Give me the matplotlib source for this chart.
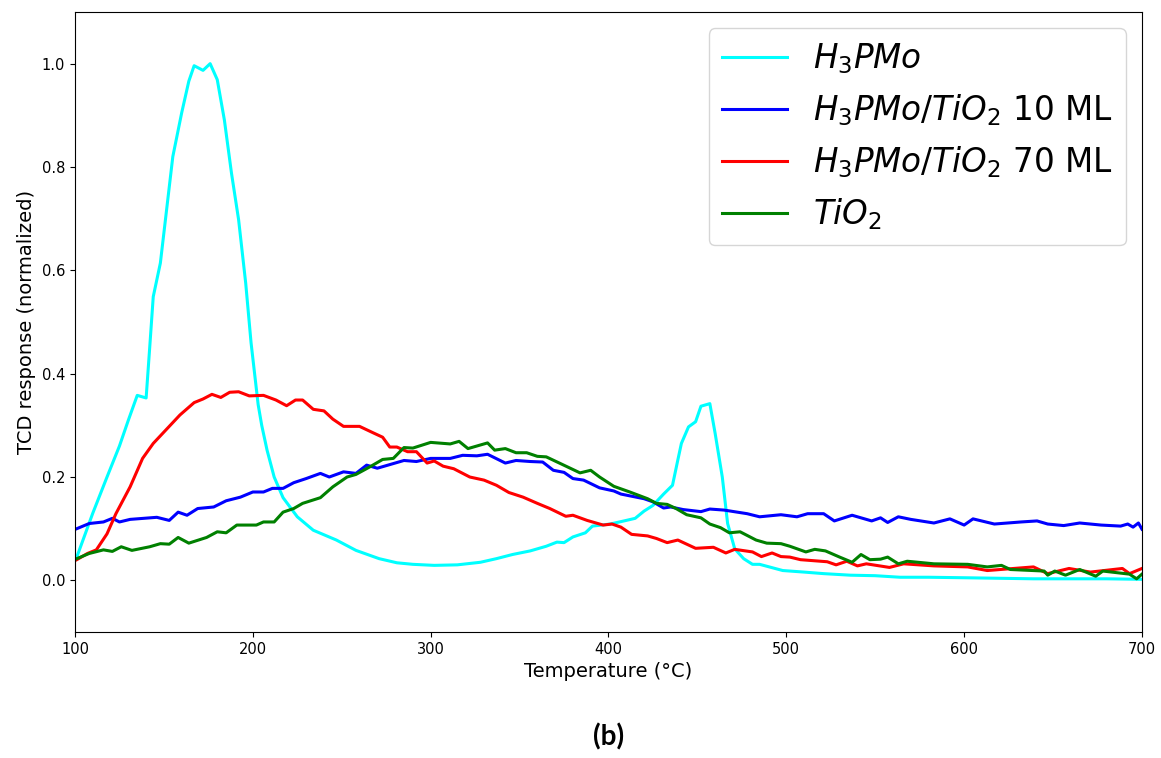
import matplotlib
matplotlib.use("Agg")
import matplotlib.pyplot as plt

# H3PMo (bulk)
h3pmo_T = [101, 110, 118, 125, 130, 135, 140, 142, 144, 148, 155, 160, 164, 167,
           172, 176, 180, 184, 188, 192, 196, 199, 201, 203, 205, 208, 212, 217,
           225, 234, 247, 258, 271, 281, 290, 302, 315, 328, 337, 346, 356, 365,
           371, 375, 380, 387, 391, 401, 410, 415, 420, 425, 431, 436, 439, 441,
           445, 449, 452, 457, 460, 464, 467, 471, 476, 481, 485, 498, 510, 521,
           536, 550, 564, 580, 601, 620, 639, 660, 680, 700]
h3pmo_y = [0.045, 0.13, 0.2, 0.26, 0.31, 0.358, 0.353, 0.45, 0.549, 0.614, 0.82,
           0.905, 0.966, 0.996, 0.987, 1.0, 0.969, 0.891, 0.788, 0.698, 0.575,
           0.46, 0.4, 0.34, 0.3, 0.252, 0.2, 0.16, 0.123, 0.097, 0.078, 0.058,
           0.042, 0.034, 0.031, 0.029, 0.03, 0.035, 0.042, 0.05, 0.057, 0.066,
           0.074, 0.073, 0.084, 0.092, 0.105, 0.109, 0.116, 0.12, 0.134, 0.145,
           0.167, 0.184, 0.233, 0.265, 0.297, 0.307, 0.337, 0.342, 0.284, 0.2,
           0.11, 0.061, 0.042, 0.031, 0.031, 0.019, 0.016, 0.013, 0.01, 0.009,
           0.006, 0.006, 0.005, 0.004, 0.003, 0.003, 0.003, 0.002]

# H3PMo/TiO2 10 ML
ml10_T = [101, 108, 116, 121, 125, 131, 146, 153, 158, 163, 169, 178, 185, 193,
          200, 206, 211, 217, 223, 230, 238, 243, 251, 258, 264, 270, 278, 285,
          292, 300, 311, 318, 326, 332, 342, 348, 356, 363, 369, 375, 380, 386,
          395, 403, 407, 420, 425, 431, 435, 442, 452, 457, 465, 478, 485, 497,
          506, 512, 521, 527, 537, 548, 553, 557, 563, 570, 583, 592, 600, 605,
          617, 632, 641, 647, 656, 665, 677, 688, 692, 695, 698, 700]
ml10_y = [0.1, 0.11, 0.113, 0.12, 0.113, 0.118, 0.122, 0.116, 0.132, 0.126,
          0.139, 0.142, 0.154, 0.161, 0.171, 0.171, 0.178, 0.178, 0.189, 0.197,
          0.207, 0.2, 0.21, 0.207, 0.223, 0.217, 0.225, 0.232, 0.23, 0.236,
          0.236, 0.242, 0.241, 0.244, 0.227, 0.232, 0.23, 0.229, 0.213, 0.209,
          0.197, 0.194, 0.179, 0.173, 0.167, 0.158, 0.152, 0.14, 0.142, 0.137,
          0.133, 0.138, 0.136, 0.129, 0.123, 0.127, 0.123, 0.129, 0.129, 0.115,
          0.126, 0.115, 0.121, 0.112, 0.123, 0.118, 0.111, 0.119, 0.107, 0.119,
          0.109, 0.113, 0.115, 0.109, 0.106, 0.111, 0.107, 0.105, 0.109, 0.103,
          0.111, 0.099]

# H3PMo/TiO2 70 ML
ml70_T = [101, 107, 112, 118, 123, 131, 138, 144, 153, 159, 167, 172, 177, 182,
          187, 192, 198, 206, 213, 219, 224, 228, 234, 240, 245, 251, 260, 268,
          273, 277, 281, 287, 292, 298, 302, 307, 313, 322, 330, 337, 344, 352,
          360, 367, 376, 380, 388, 397, 402, 407, 413, 422, 427, 433, 439, 449,
          459, 466, 471, 481, 486, 492, 497, 502, 508, 523, 528, 534, 540, 545,
          558, 566, 583, 602, 613, 639, 647, 659, 671, 689, 693, 700]
ml70_y = [0.04, 0.052, 0.059, 0.09, 0.129, 0.181, 0.236, 0.265, 0.298, 0.32,
          0.344, 0.351, 0.36, 0.354, 0.364, 0.365, 0.357, 0.358, 0.349, 0.338,
          0.349, 0.349, 0.331, 0.328, 0.312, 0.298, 0.298, 0.285, 0.277, 0.258,
          0.258, 0.249, 0.249, 0.227, 0.231, 0.221, 0.216, 0.2, 0.194, 0.184,
          0.17, 0.161, 0.149, 0.139, 0.124, 0.126, 0.116, 0.107, 0.109, 0.103,
          0.089, 0.086, 0.081, 0.073, 0.078, 0.062, 0.064, 0.053, 0.06, 0.055,
          0.046, 0.053, 0.046, 0.045, 0.04, 0.036, 0.03, 0.037, 0.028, 0.032,
          0.025, 0.032, 0.028, 0.026, 0.019, 0.026, 0.013, 0.023, 0.016, 0.023,
          0.013, 0.023]

# TiO2
tio2_T = [101, 108, 116, 121, 126, 132, 142, 148, 153, 158, 164, 174, 180, 185,
          191, 202, 206, 212, 217, 223, 228, 238, 245, 253, 258, 266, 273, 279,
          285, 290, 300, 311, 316, 321, 332, 336, 342, 348, 354, 360, 365, 373,
          384, 390, 395, 403, 412, 422, 427, 433, 438, 444, 452, 457, 463, 468,
          474, 483, 489, 497, 502, 511, 516, 522, 530, 537, 542, 547, 553, 557,
          563, 568, 583, 602, 613, 621, 626, 645, 647, 651, 657, 665, 674, 678,
          688, 693, 697, 700]
tio2_y = [0.042, 0.052, 0.059, 0.056, 0.065, 0.058, 0.065, 0.071, 0.07, 0.083,
          0.072, 0.083, 0.094, 0.092, 0.107, 0.107, 0.113, 0.113, 0.132, 0.139,
          0.149, 0.16, 0.181, 0.2, 0.205, 0.22, 0.234, 0.236, 0.257, 0.256,
          0.267, 0.264, 0.269, 0.255, 0.266, 0.252, 0.255, 0.247, 0.247, 0.24,
          0.239, 0.226, 0.208, 0.213, 0.2, 0.182, 0.171, 0.158, 0.149, 0.147,
          0.139, 0.127, 0.121, 0.109, 0.102, 0.092, 0.094, 0.078, 0.072, 0.071,
          0.066, 0.055, 0.06, 0.057, 0.045, 0.035, 0.05, 0.04, 0.041, 0.045,
          0.032, 0.037, 0.032, 0.031, 0.026, 0.029, 0.021, 0.018, 0.01, 0.018,
          0.01, 0.021, 0.008, 0.018, 0.014, 0.012, 0.003, 0.012]

fig = plt.figure(figsize=(11.61, 7.58), dpi=100)
ax = fig.add_axes([0.0646, 0.1662, 0.919, 0.818])

ax.plot(h3pmo_T, h3pmo_y, color='cyan', lw=2.2, label=r'$H_3PMo$')
ax.plot(ml10_T, ml10_y, color='blue', lw=2.2, label=r'$H_3PMo/TiO_2$ 10 ML')
ax.plot(ml70_T, ml70_y, color='red', lw=2.2, label=r'$H_3PMo/TiO_2$ 70 ML')
ax.plot(tio2_T, tio2_y, color='green', lw=2.2, label=r'$TiO_2$')

ax.set_xlim(100, 700)
ax.set_ylim(-0.1, 1.1)
ax.set_yticks([0.0, 0.2, 0.4, 0.6, 0.8, 1.0])
ax.tick_params(labelsize=10.5)
ax.set_xlabel('Temperature (°C)', fontsize=14)
ax.set_ylabel('TCD response (normalized)', fontsize=14)
ax.legend(loc='upper right', fontsize=23.5)

fig.text(0.5245, 0.028, '(b)', fontsize=20, fontweight='bold',
         family='Lato', ha='center', va='center')

fig.savefig('out.png', dpi=100)
